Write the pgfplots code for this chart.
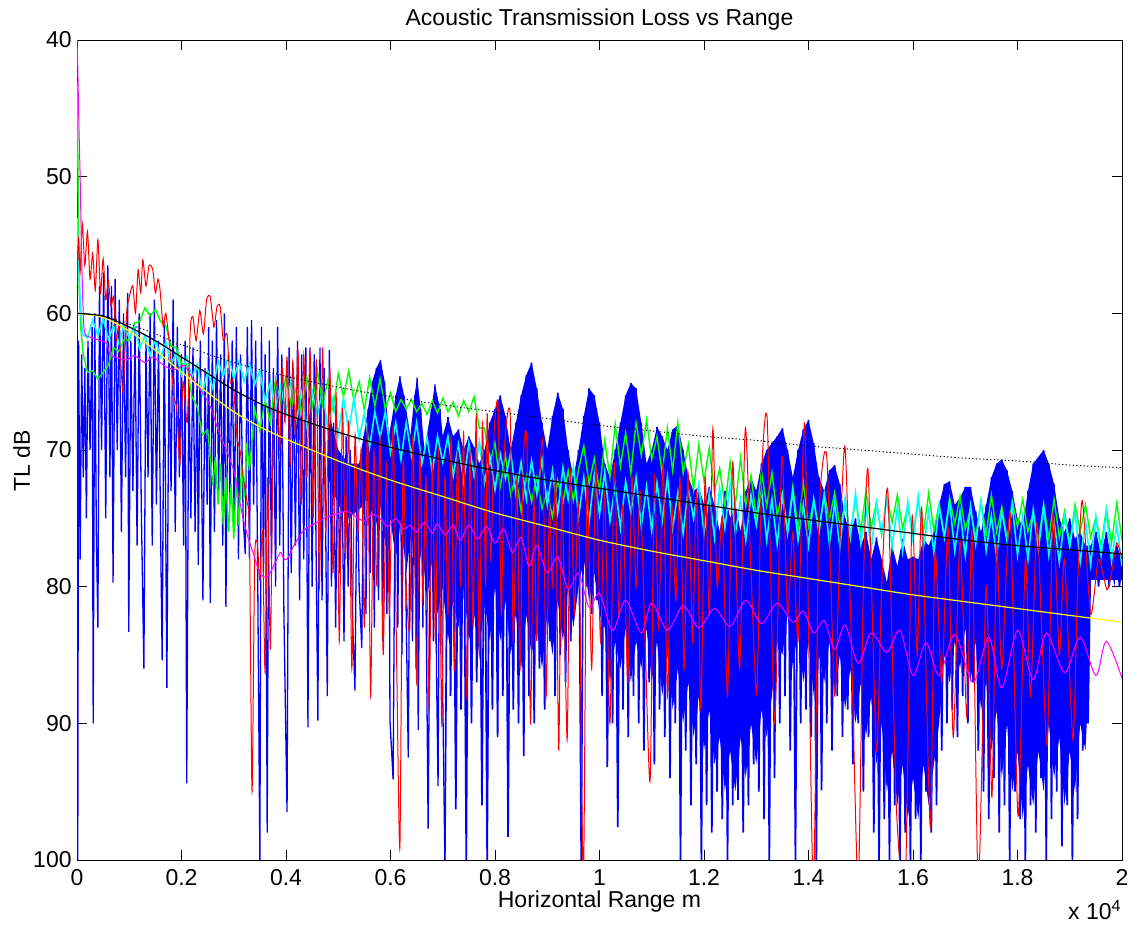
\documentclass[border=0pt]{standalone}
\usepackage{fontspec}
\setmainfont{Liberation Sans}
\usepackage{pgfplots}
\pgfplotsset{compat=1.18}
\definecolor{mblue}{rgb}{0,0,1}
\definecolor{mred}{rgb}{1,0,0}
\definecolor{mgreen}{rgb}{0,1,0}
\definecolor{mcyan}{rgb}{0,1,1}
\definecolor{mmag}{rgb}{1,0,1}
\definecolor{myel}{rgb}{1,1,0}
\begin{document}
\fontsize{11.5}{13.5}\selectfont
\begin{tikzpicture}
\begin{axis}[
 scale only axis, width=522.5pt, height=410pt,
 xmin=0, xmax=20000, ymin=40, ymax=100, y dir=reverse,
 scaled x ticks=false,
 xtick={0,2000,4000,6000,8000,10000,12000,14000,16000,18000,20000},
 xticklabels={0,0.2,0.4,0.6,0.8,1,1.2,1.4,1.6,1.8,2},
 ytick={40,50,60,70,80,90,100},
 tick align=inside, major tick length=5pt,
 tick style={black, line width=0.5pt},
 axis line style={line width=0.5pt},
 /pgf/number format/assume math mode=true,
 x tick label style={anchor=base, yshift=-12.5pt, inner sep=0pt},
 y tick label style={inner sep=0pt, xshift=-2.5pt},
 title={Acoustic Transmission Loss vs Range},
 every axis title/.style={at={(axis description cs:0.5,1)}, anchor=base, yshift=7.5pt, inner sep=0pt},
 xlabel={Horizontal Range m},
 every axis x label/.style={at={(axis description cs:0.5,0)}, anchor=base, yshift=-23.5pt, inner sep=0pt},
 ylabel={TL dB},
 every axis y label/.style={at={(axis description cs:-0.04498,0.487)}, rotate=90, anchor=base, inner sep=0pt},
]
% blue solid body (area covered by the dense oscillation)
\addplot[fill=mblue, draw=none] coordinates {(4800,67)(5000,70)(5200,71)(5400,71)(5570,67)(5650,65)(5730,64)(5810,63.4)(5890,65)(5970,69)(6100,66)(6180,64.6)(6260,66)(6380,69)(6460,66)(6510,64.7)(6580,67)(6650,70)(6780,67)(6850,65.2)(6950,67)(7000,69)(7100,67.6)(7200,69)(7300,68.5)(7400,70)(7500,69)(7600,69.8)(7700,71)(7800,70)(7900,68)(8000,67)(8100,66)(8200,67.5)(8300,70)(8400,68)(8500,66)(8600,64.5)(8700,63.6)(8800,65.5)(8900,68)(9000,70)(9100,67.5)(9200,65.8)(9300,67)(9400,70)(9500,72)(9600,70)(9700,67.5)(9800,65.5)(9900,66)(10000,68)(10100,71)(10200,72)(10300,70)(10400,68)(10500,66)(10600,65.1)(10700,65.5)(10800,68)(10900,71)(11000,70)(11100,68.3)(11200,69)(11300,70)(11400,68.5)(11500,68.2)(11600,70)(11700,72)(11800,73)(11900,72.7)(12000,74)(12100,72.7)(12200,74)(12300,76)(12400,73)(12500,75)(12600,74)(12700,76)(12800,73)(12900,72)(13000,73)(13100,71)(13200,70)(13300,69.5)(13400,69)(13500,68.4)(13600,70)(13700,72)(13800,70)(13900,68.5)(14000,67.8)(14100,69.5)(14200,72)(14300,73)(14400,71.5)(14500,71.1)(14600,72.5)(14700,75)(14800,76)(14900,75)(15000,77)(15100,76)(15200,78)(15300,76.4)(15400,78)(15500,79.7)(15600,77)(15700,78.5)(15800,76.5)(15900,78)(16000,77.8)(16100,78)(16200,76.5)(16300,77)(16400,76)(16500,74)(16600,72.5)(16700,72.3)(16800,74)(16900,73.5)(17000,72.7)(17100,72.7)(17200,74.5)(17300,76)(17400,74)(17500,72)(17600,71)(17700,70.7)(17800,71.5)(17900,73)(18000,75)(18100,75.5)(18200,73)(18300,71)(18400,70.5)(18500,70)(18600,71)(18700,72.5)(18800,75)(18900,76)(19000,75)(19100,76.5)(19200,76)(19300,77)(19400,77)(19500,76)(19600,77.5)(19700,76)(19800,78)(19900,77)(20000,78)(20000,79.5)(19400,79.5)(19350,88)(19300,92)(19200,90)(19100,95)(19000,92)(18900,96)(18800,91)(18700,94)(18600,90)(18500,95)(18400,92)(18300,96)(18200,93)(18100,97)(18000,92)(17900,95)(17800,90)(17700,94)(17600,89)(17500,92)(17400,87)(17300,89)(17200,84)(17100,87)(17000,83)(16900,86)(16800,84)(16700,87)(16600,85)(16500,90)(16400,93)(16300,96)(16200,93)(16100,97)(16000,94)(15900,97)(15800,93)(15700,96)(15600,92)(15500,95)(15400,90)(15300,93)(15200,88)(15100,91)(15000,87)(14900,90)(14800,86)(14700,89)(14600,85)(14500,88)(14400,84)(14300,87)(14200,85)(14100,88)(14000,84)(13900,87)(13800,83)(13700,86)(13600,82)(13500,85)(13400,84)(13300,88)(13200,91)(13100,89)(13000,93)(12900,90)(12800,94)(12700,91)(12600,95)(12500,92)(12400,95)(12300,91)(12200,93)(12100,89)(12000,92)(11900,88)(11800,91)(11700,87)(11600,90)(11500,86)(11400,89)(11300,85)(11200,88)(11100,84)(11000,87)(10900,83)(10800,86)(10700,84)(10600,87)(10500,83)(10400,86)(10300,84)(10200,87)(10100,83)(10000,82)(9900,79)(9800,81)(9700,78)(9600,80)(9500,83)(9400,80)(9300,84)(9200,81)(9100,85)(9000,82)(8900,86)(8800,83)(8700,85)(8600,82)(8500,86)(8400,82)(8300,85)(8200,81)(8100,84)(8000,80)(7900,84)(7800,81)(7700,85)(7600,82)(7500,84)(7400,80)(7300,83)(7200,81)(7100,84)(7000,80)(6900,82)(6800,78)(6700,81)(6600,77)(6500,80)(6400,76)(6300,79)(6200,75)(6100,78)(6000,75)(5900,77)(5800,74)(5700,76)(5570,73)(5500,74)(5200,75)(5000,74)(4800,72)};
% blue, near range
\addplot[mblue, line width=0.65pt] coordinates {(0,40)(15,100)(30,62)(60,78)(90,63)(120,72)(150,64)(180,75)(210,62)(250,70)(290,61)(310,90)(340,60)(370,76)(400,83)(430,58)(470,70)(510,57)(550,75)(590,56.5)(630,72)(660,58)(690,79.7)(730,57.5)(770,70)(810,59)(850,76)(890,60)(930,72)(970,58.5)(990,83.3)(1030,62)(1070,73)(1110,61)(1150,77)(1190,60)(1230,74)(1280,86)(1320,62)(1360,72)(1400,60)(1440,77)(1480,59)(1520,74)(1560,62)(1600,76)(1630,85.4)(1670,60.5)(1720,87.4)(1760,63)(1800,73)(1840,59)(1880,76)(1920,61)(1960,72)(2000,63)(2040,77)(2070,62)(2100,94.4)(2140,64)(2180,75)(2220,62.5)(2260,76)(2300,64)(2320,78.4)(2360,62)(2410,81)(2450,64)(2490,74)(2520,61)(2550,81.2)(2590,62)(2630,76)(2670,60.5)(2710,73)(2750,63)(2790,77)(2820,60)(2850,81.5)(2890,64)(2930,74)(2970,62)(3010,76)(3050,61)(3090,78)(3130,63)(3180,75)(3220,77.6)(3260,61)(3300,78)(3340,60.5)(3380,74)(3420,62)(3460,80)(3500,100)(3530,61)(3570,79)(3600,63)(3640,98)(3680,62)(3720,78)(3760,64)(3800,80)(3840,61)(3880,77)(3920,63)(3960,82)(4020,96.5)(4060,62.5)(4100,79)(4140,64)(4180,77)(4220,62)(4260,81)(4300,63)(4340,78)(4380,62.5)(4420,90.3)(4460,62.5)(4500,80)(4540,63)(4580,79)(4610,89.8)(4650,62.5)(4690,81)(4730,64)(4790,88)(4830,62.7)(4870,80)(4910,68)(4950,83)(4990,70)(5030,79)(5070,71)(5110,84)(5150,69)(5190,80)(5230,70)(5270,82)(5320,87.6)(5360,71)(5400,80)(5450,84.5)(5490,69)(5530,82)(5570,67)(5610,79)(5650,65)(5690,83)(5730,64)(5770,81)(5810,63.4)(5850,84)(5890,65)(5930,82)(5970,69)(5990,89.8)(6050,94.1)(6100,66)(6140,83)(6180,64.6)(6220,85)(6260,66)(6300,82)(6340,92.5)(6380,69)(6420,84)(6460,66)(6490,86)(6510,64.7)(6530,90.5)(6580,67)(6620,83)(6650,70)(6690,85)(6720,97.7)(6780,67)(6820,84)(6850,65.2)(6880,86)(6910,94.6)(6950,67)(6990,85)(7040,100)};
% blue, far range
\addplot[mblue, line width=0.85pt] coordinates {(7040,100)(7100,67.6)(7150,88)(7200,69)(7250,96.3)(7300,68.5)(7350,89)(7400,70)(7450,100)(7500,69)(7550,90)(7600,69.8)(7650,87)(7700,71)(7750,96)(7800,70)(7850,100)(7900,68)(7950,89)(8000,67)(8050,91)(8100,66)(8150,88)(8200,67.5)(8250,98.3)(8300,70)(8350,89)(8400,68)(8450,90)(8500,66)(8550,92.4)(8600,64.5)(8650,88)(8700,63.6)(8750,90)(8800,65.5)(8850,86)(8900,68)(8950,89)(9000,70)(9050,84)(9100,67.5)(9150,88)(9200,65.8)(9250,85)(9300,67)(9350,87)(9400,70)(9450,84)(9500,72)(9550,81)(9600,70)(9650,100)(9700,67.5)(9750,80)(9800,65.5)(9850,82)(9900,66)(9950,81)(10000,68)(10050,88)(10100,71)(10150,93.2)(10200,72)(10250,90)(10300,70)(10350,97.6)(10400,68)(10450,89)(10500,66)(10550,91)(10600,65.1)(10650,88)(10700,65.5)(10750,90)(10800,68)(10850,92)(10900,71)(10950,87)(11000,70)(11050,93)(11100,68.3)(11150,89)(11200,69)(11250,91)(11300,70)(11350,94)(11400,68.5)(11450,90)(11500,68.2)(11550,100)(11600,70)(11650,92)(11700,72)(11750,96)(11800,73)(11850,93)(11900,72.7)(11950,100)(12000,74)(12050,96)(12100,72.7)(12150,98)(12200,74)(12250,95)(12300,76)(12350,97)(12400,73)(12450,100)(12500,75)(12550,96)(12600,74)(12650,95.6)(12700,76)(12750,98)(12800,73)(12850,96)(12900,72)(12950,93)(13000,73)(13050,95)(13100,71)(13150,97)(13200,70)(13250,100)(13300,69.5)(13350,94)(13400,69)(13450,90)(13500,68.4)(13550,88)(13600,70)(13650,92)(13700,72)(13750,100)(13800,70)(13850,90)(13900,68.5)(13950,89)(14000,67.8)(14050,91)(14100,69.5)(14150,100)(14200,72)(14250,94.9)(14300,73)(14350,90)(14400,71.5)(14450,92)(14500,71.1)(14550,88)(14600,72.5)(14650,91)(14700,75)(14750,89)(14800,76)(14850,93)(14900,75)(14950,90)(15000,77)(15050,95)(15100,76)(15150,91)(15200,78)(15250,98)(15300,76.4)(15350,100)(15400,78)(15450,97)(15500,79.7)(15550,100)(15600,77)(15650,96)(15700,78.5)(15750,100)(15800,76.5)(15850,98)(15900,78)(15950,100)(16000,77.8)(16050,97)(16100,78)(16150,100)(16200,76.5)(16250,95)(16300,77)(16350,98)(16400,76)(16450,96)(16500,74)(16550,92)(16600,72.5)(16650,90)(16700,72.3)(16750,89)(16800,74)(16850,91)(16900,73.5)(16950,88)(17000,72.7)(17050,90)(17100,72.7)(17150,87)(17200,74.5)(17250,92)(17300,76)(17350,95)(17400,74)(17450,97)(17500,72)(17550,94)(17600,71)(17650,98)(17700,70.7)(17750,96)(17800,71.5)(17850,100)(17900,73)(17950,95)(18000,75)(18050,97)(18100,75.5)(18150,100)(18200,73)(18250,96)(18300,71)(18350,98)(18400,70.5)(18450,94)(18500,70)(18550,100)(18600,71)(18650,97)(18700,72.5)(18750,95)(18800,75)(18850,99)(18900,76)(18950,96)(19000,75)(19050,100)(19100,76.5)(19150,97)(19200,76)(19250,92)(19300,77)(19350,90)(19400,77)(19450,79.5)(19500,76)(19550,80)(19600,77.5)(19650,79)(19700,76)(19750,80)(19800,78)(19850,79.5)(19900,77)(19950,80)(20000,78)};
% green
\addplot[mgreen, line width=0.7pt] coordinates {(0,43)(20,50)(40,58)(70,61)(120,63)(200,64.3)(300,64.2)(400,64.8)(500,64.3)(600,63.8)(700,62.5)(800,62.8)(900,61.9)(1000,62.0)(1100,60.7)(1200,60.6)(1300,59.6)(1400,60.2)(1500,59.7)(1600,60.6)(1700,60.9)(1800,62.4)(1900,62.5)(2000,63.7)(2100,63.7)(2200,66.1)(2300,66.8)(2400,68.9)(2500,68.5)(2600,72.6)(2650,70.5)(2700,74)(2750,71)(2800,75.5)(2850,72)(2900,76)(2950,72.5)(3000,76.5)(3050,72)(3100,75.5)(3150,71)(3200,73.5)(3250,69.5)(3300,71.5)(3400,67.0)(3500,68.6)(3600,66.3)(3700,68.0)(3800,64.8)(3900,66.6)(4000,64.6)(4100,66.8)(4200,65.4)(4300,67.3)(4400,64.7)(4500,66.9)(4600,64.2)(4700,66.7)(4800,64.9)(4900,67.1)(5000,64.4)(5100,66.1)(5200,64.2)(5300,66.4)(5400,65.0)(5500,67.1)(5600,64.7)(5700,66.8)(5800,64.8)(5900,67.0)(6000,65.8)(6100,67.2)(6200,66.3)(6300,67.0)(6400,66.3)(6500,67.2)(6600,66.6)(6700,67.4)(6800,66.4)(6900,67.3)(7000,66.2)(7100,67.2)(7200,66.5)(7300,67.5)(7400,66.4)(7500,67.2)(7600,66.1)(7700,68.4)(7800,68.4)(7900,71.0)(8000,69.5)(8100,72.7)(8200,70.4)(8300,73.3)(8400,71.9)(8500,74.5)(8600,71.9)(8700,73.8)(8800,72.0)(8900,74.3)(9000,73.1)(9100,74.9)(9200,72.2)(9300,73.9)(9400,71.5)(9500,73.7)(9600,71.4)(9700,69.7)(9800,72.5)(9900,70.6)(10000,73.0)(10100,69.3)(10200,72.0)(10300,68.1)(10400,71.2)(10500,68.75)(10600,71.7)(10700,68.0)(10800,70.4)(10900,67.8)(11000,70.7)(11100,69.0)(11200,71.7)(11300,68.4)(11400,71.5)(11500,68.0)(11600,71.7)(11700,69.6)(11800,72.9)(11900,69.6)(12000,72.3)(12100,69.85)(12200,73.0)(12300,71.35)(12400,74.1)(12500,70.85)(12600,74.0)(12700,70.55)(12800,74.1)(12900,71.85)(13000,75)(13100,71.55)(13200,74.1)(13300,71.65)(13400,74.8)(13500,73.15)(13600,75.9)(13700,72.65)(13800,75.8)(13900,72.35)(14000,75.6)(14100,73.7)(14200,76.1)(14300,73.2)(14400,75.1)(14500,73.1)(14600,75.5)(14700,74.1)(14800,76.2)(14900,73.5)(15000,75.9)(15100,73.0)(15200,75.7)(15300,73.8)(15400,76.25)(15500,73.4)(15600,75.3)(15700,73.3)(15800,75.7)(15900,74.2)(16000,76.3)(16100,73.6)(16200,76.0)(16300,73.15)(16400,75.9)(16500,73.95)(16600,76.35)(16700,73.5)(16800,75.4)(16900,73.4)(17000,75.8)(17100,74.3)(17200,76.45)(17300,73.7)(17400,76.2)(17500,73.3)(17600,76.0)(17700,74.15)(17800,76.55)(17900,73.7)(18000,75.6)(18100,73.6)(18200,76.0)(18300,74.6)(18400,76.7)(18500,74.0)(18600,76.5)(18700,73.6)(18800,76.4)(18900,74.5)(19000,76.9)(19100,74.0)(19200,76.0)(19300,74.0)(19400,76.4)(19500,74.9)(19600,77.05)(19700,74.3)(19800,76.8)(19900,73.9)(20000,76.6)};
% cyan
\addplot[mcyan, line width=0.8pt] coordinates {(0,53)(30,56)(60,59)(100,61.5)(200,61.8)(300,60.5)(400,61.6)(500,60.4)(600,61.9)(700,60.9)(800,62.2)(900,60.9)(1000,61.8)(1100,61.0)(1200,62.6)(1300,61.6)(1400,63.1)(1500,61.9)(1600,63.2)(1700,62.1)(1800,63.7)(1900,62.9)(2000,64.5)(2100,63.2)(2200,64.7)(2300,63.7)(2400,65.9)(2500,64.2)(2600,65.5)(2700,63.5)(2800,64.6)(2900,63)(3000,64.8)(3100,63.5)(3200,65)(3300,63.7)(3400,65.2)(3500,64.2)(3600,66.4)(3700,65.1)(3800,66.9)(3900,65.3)(4000,67.3)(4100,64.8)(4200,67.8)(4300,65.8)(4400,68.3)(4500,65.7)(4600,67.5)(4700,65.6)(4800,68.5)(4900,66.2)(5000,68.9)(5100,66.2)(5200,68.6)(5300,66.2)(5400,69.2)(5500,67.3)(5600,69.8)(5700,67.2)(5800,69.1)(5900,67.2)(6000,70.2)(6100,68.0)(6200,70.7)(6300,68.0)(6400,70.4)(6500,68.0)(6600,71.0)(6700,69.1)(6800,71.6)(6900,69.0)(7000,70.9)(7100,69.0)(7200,71.9)(7300,69.6)(7400,72.3)(7500,69.5)(7600,71.9)(7700,69.4)(7800,72.4)(7900,70.4)(8000,72.9)(8100,70.3)(8200,72.1)(8300,70.2)(8400,73.2)(8500,70.9)(8600,73.6)(8700,70.8)(8800,73.2)(8900,70.7)(9000,74.0)(9100,71.5)(9200,74.6)(9300,71.3)(9400,73.6)(9500,71.2)(9600,74.9)(9700,72.0)(9800,75.3)(9900,71.8)(10000,74.7)(10100,71.6)(10200,75.2)(10300,72.6)(10400,75.7)(10500,72.3)(10600,74.6)(10700,72.0)(10800,75.6)(10900,72.7)(11000,75.9)(11100,72.4)(11200,75.2)(11300,72.0)(11400,75.7)(11500,73.1)(11600,76.1)(11700,72.8)(11800,75.0)(11900,72.5)(12000,76.1)(12100,73.2)(12200,76.4)(12300,72.8)(12400,75.7)(12500,72.5)(12600,76.1)(12700,73.6)(12800,76.6)(12900,73.3)(13000,75.5)(13100,72.9)(13200,76.6)(13300,73.6)(13400,76.9)(13500,73.3)(13600,76.1)(13700,73.0)(13800,76.6)(13900,74.0)(14000,77.0)(14100,73.6)(14200,75.9)(14300,73.3)(14400,76.9)(14500,73.9)(14600,77.1)(14700,73.5)(14800,76.4)(14900,73.2)(15000,76.8)(15100,74.2)(15200,77.3)(15300,73.9)(15400,76.1)(15500,73.5)(15600,77.1)(15700,74.2)(15800,77.4)(15900,73.8)(16000,76.6)(16100,73.4)(16200,77.1)(16300,74.5)(16400,77.5)(16500,74.1)(16600,76.4)(16700,73.8)(16800,77.4)(16900,74.5)(17000,77.7)(17100,74.1)(17200,76.9)(17300,73.8)(17400,77.4)(17500,74.8)(17600,77.8)(17700,74.5)(17800,76.7)(17900,74.1)(18000,77.7)(18100,74.8)(18200,78.0)(18300,74.4)(18400,77.3)(18500,74.1)(18600,77.7)(18700,75.2)(18800,78.2)(18900,74.9)(19000,77.1)(19100,74.5)(19200,78.2)(19300,75.2)(19400,78.4)(19500,74.9)(19600,77.7)(19700,74.5)(19800,78.1)(19900,75.5)(20000,78.5)};
% red
\addplot[mred, line width=0.5pt, smooth, tension=0.4] coordinates {(0,58)(30,54.6)(60,57)(100,53.4)(150,56.5)(200,54)(250,57.5)(300,55.6)(350,58.3)(400,54.6)(450,58.5)(500,56)(550,59)(600,57.6)(650,59.5)(700,58.8)(750,62)(800,61)(880,65.8)(950,60)(1020,58.5)(1070,58)(1120,60)(1170,56.8)(1220,58.5)(1260,56.1)(1320,58)(1380,56.5)(1450,56.8)(1500,58.5)(1550,57.5)(1590,58.3)(1650,61)(1700,60)(1780,62.7)(1850,66)(1910,67)(1970,71)(2030,65)(2110,68)(2170,61)(2220,60.3)(2280,62)(2350,59.8)(2420,61.5)(2480,59)(2550,58.8)(2620,61)(2680,59.5)(2740,59.5)(2800,62)(2870,61.5)(2930,65)(2990,65)(3060,69)(3120,70)(3180,72)(3250,73.7)(3300,76)(3350,95)(3400,78)(3450,76.8)(3500,79.5)(3550,76)(3600,86.3)(3650,72)(3700,84.6)(3760,68)(3830,65)(3880,70)(3930,64)(3980,68)(4020,63.2)(4080,71)(4130,63.5)(4180,69)(4230,62.7)(4290,74)(4340,63)(4400,72)(4460,62.8)(4520,75)(4580,63.5)(4640,80)(4700,62.5)(4760,76)(4840,64.1)(4900,79)(4960,66)(5020,84)(5080,67)(5140,78)(5200,68)(5260,86)(5320,69)(5380,76)(5440,70)(5500,83)(5560,68)(5620,88)(5680,70)(5740,80)(5800,69)(5860,85)(5920,71)(5980,82)(6050,68.3)(6120,86)(6180,99)(6240,71)(6300,80)(6370,83)(6430,69)(6500,87)(6560,70)(6620,81)(6680,72)(6740,89)(6800,71)(6860,84)(6920,70)(6980,90)(7040,72)(7100,82)(7160,69)(7220,86)(7280,70)(7340,80)(7400,68.7)(7460,88)(7520,70)(7580,83)(7640,67.5)(7700,85)(7760,68)(7820,80)(7850,67.3)(7920,78)(7980,69)(8060,66.8)(8120,82)(8180,70)(8290,67.4)(8350,84)(8420,72)(8480,86)(8540,71)(8610,69.5)(8680,90)(8740,73)(8800,84)(8860,72)(8920,69.8)(8980,88)(9040,74)(9100,80)(9160,72)(9220,92)(9280,73)(9380,91.2)(9440,71.5)(9520,82)(9600,74)(9690,102)(9760,72)(9850,86)(9930,71)(10020,84)(10100,73)(10200,90)(10280,71)(10370,82)(10450,74)(10540,87)(10620,72)(10700,80)(10780,73)(10880,85)(10970,94.1)(11050,72)(11130,83)(11220,71)(11300,88)(11380,74)(11460,81)(11540,72)(11620,86)(11693,71.6)(11780,84)(11860,73)(11940,89)(12020,72)(12100,82)(12170,68.4)(12250,80)(12350,75)(12450,88)(12550,70.9)(12680,86)(12790,68.4)(12900,79)(13010,87.8)(13100,72)(13210,67.8)(13350,90)(13490,70.5)(13600,82)(13700,76)(13800,84)(13930,68.2)(14090,102)(14200,75)(14350,70.5)(14500,88)(14600,77)(14700,69.8)(14820,84)(14950,102)(15050,80)(15140,71.5)(15300,92)(15400,80)(15520,73.1)(15680,96)(15850,102)(15980,75)(16080,85)(16170,74.4)(16330,97.6)(16420,77.5)(16550,87)(16670,75.6)(16770,91)(16900,76.6)(17030,89.5)(17130,76)(17250,102)(17400,80)(17510,95.4)(17600,77)(17700,86)(17860,74.6)(18010,96.8)(18150,78)(18250,88)(18370,75.3)(18470,84)(18570,91.5)(18680,74.6)(18800,85)(18900,78)(19060,91.2)(19150,80)(19240,73.7)(19400,82)(19550,78)(19710,80.2)(19800,79)(19900,76.8)(20000,78)};
% magenta
\addplot[mmag, line width=0.5pt, smooth] coordinates {(0,40)(15,42)(35,46)(60,50)(90,56)(120,60)(153,61.5)(300,61.8)(450,62)(575,62.2)(630,63)(800,63.3)(960,63.4)(1100,63.1)(1300,63.6)(1450,63.2)(1590,63.6)(1750,64)(1910,64.1)(2050,63.8)(2220,64.8)(2400,65.8)(2550,66.8)(2700,68.5)(2870,70.1)(3000,71.5)(3060,72.7)(3180,75)(3280,76.5)(3370,77.5)(3500,79)(3640,79.3)(3760,78.5)(3890,77.5)(3950,77.9)(4020,78)(4150,77)(4330,75.9)(4500,75.5)(4790,74.9)(4950,74.7)(5170,74.5)(5350,74.9)(5500,75.2)(5650,74.7)(5800,75)(5950,75.6)(6100,75)(6250,75.8)(6370,75.5)(6500,76)(6650,75.3)(6800,76.1)(6890,75.4)(7050,76.2)(7200,75.5)(7330,76.6)(7500,75.5)(7670,76.5)(7840,75.6)(8000,76.8)(8170,75.8)(8330,77.5)(8500,76.4)(8650,78.5)(8800,77.0)(9000,79.0)(9200,77.8)(9400,80.2)(9600,79.0)(9800,81.5)(10000,80.5)(10250,83.2)(10500,81.0)(10800,83.4)(11000,81.2)(11300,83.2)(11600,81.4)(11900,83.0)(12200,81.6)(12500,82.9)(12800,81.0)(13100,82.7)(13400,81.2)(13700,82.6)(13900,81.8)(14100,83.4)(14300,82.5)(14500,84.6)(14700,82.8)(14950,85.6)(15200,83.4)(15500,84.8)(15750,83.2)(16000,86.5)(16250,84.1)(16500,86.5)(16800,83.5)(17150,87.0)(17450,83.7)(17700,87.4)(18000,83.2)(18300,86.8)(18550,83.4)(18900,86.3)(19200,83.7)(19500,86.5)(19700,84)(20000,86.7)};
% yellow
\addplot[myel, line width=0.6pt, smooth] coordinates {(0,60)(500,60.3)(1000,61.3)(1500,62.7)(2000,64.3)(2500,65.8)(3000,67.2)(3500,68.3)(4000,69.2)(5000,70.8)(6000,72.2)(7000,73.4)(8000,74.6)(9000,75.6)(10000,76.6)(11000,77.4)(12000,78.1)(13000,78.8)(14000,79.4)(15000,80)(16000,80.6)(17000,81.1)(18000,81.6)(19000,82.1)(20000,82.6)};
% black
\addplot[black, line width=0.6pt, smooth] coordinates {(0,60)(500,60.2)(1000,61)(1500,62)(2000,63.2)(2500,64.4)(3000,65.6)(3500,66.6)(4000,67.4)(5000,68.7)(6000,69.8)(7000,70.7)(8000,71.5)(9000,72.2)(10000,72.8)(11000,73.4)(12000,74)(13000,74.6)(14000,75.1)(15000,75.6)(16000,76.1)(17000,76.6)(18000,77.0)(19000,77.3)(20000,77.6)};
% black dotted
\addplot[black, line width=0.5pt, dash pattern=on 0.6pt off 1.2pt, smooth] coordinates {(0,60)(500,60.2)(1000,60.8)(1500,61.5)(2000,62.3)(3000,63.6)(4000,64.6)(5000,65.4)(6000,66.1)(7000,66.7)(8000,67.2)(9000,67.7)(10000,68.2)(11000,68.6)(12000,69.0)(13000,69.3)(14000,69.7)(15000,70.0)(16000,70.3)(17000,70.6)(18000,70.8)(19000,71.1)(20000,71.3)};
\end{axis}
\node[anchor=base east, inner sep=0pt] at ([yshift=-30pt]current axis.south east) {x 10\textsuperscript{4}};
\path ([shift={(-38.5pt,-34pt)}]current axis.south west) rectangle ([shift={(5.5pt,20pt)}]current axis.north east);
\end{tikzpicture}
\end{document}
